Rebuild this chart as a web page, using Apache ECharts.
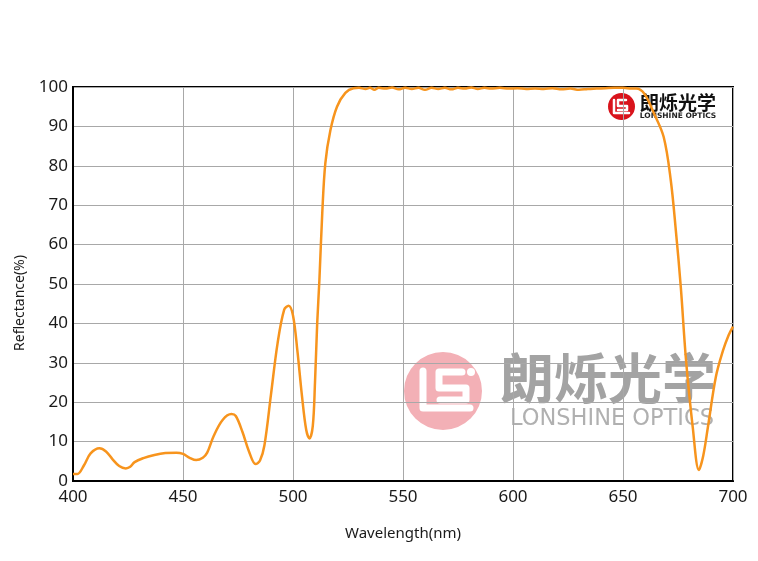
<!DOCTYPE html>
<html>
<head>
<meta charset="utf-8">
<script src="https://cdn.jsdelivr.net/npm/echarts@6/dist/echarts.min.js"></script>
<style>html,body{margin:0;padding:0;background:#fff}#c{width:758px;height:561px}</style>
</head>
<body>
<div id="c"></div>
<script>
var wavelengths = [400,402,405,408,412,415,418,421,424,426,428,432,437,442,447,450,453,456,459,461,464,468,472,474,477,480,483,485,487,490,493,496,498,500,502,504,506,507.5,509,510,511,512,513.3,514.7,517,520,523.8,527.5,530,533,535,537,539,542,545,548,551,554,557,560,563,566,569,572,575,578,581,584,587,590,594,598,602,606,610,614,618,622,626,630,634,638,642,646,650,654,656,659.7,664,668.5,671.7,674,676.3,678.6,681.7,684.5,686.5,688.6,692.2,695.4,698,700];
var reflectance = [1.8,1.8,4,7,8.3,7.5,5.5,3.8,3.2,3.6,4.8,5.8,6.6,7.1,7.2,6.9,5.9,5.3,5.9,7.2,11.5,15.5,17,16.5,12.5,7.5,4.3,5.2,9,22,35,43.5,44.5,42,33,22,13,10.8,14,25,40,51,68,80.7,89,95,98.5,99.7,99.8,99.5,99.8,99.3,99.8,99.6,99.9,99.4,99.8,99.5,99.8,99.3,99.8,99.5,99.8,99.4,99.8,99.6,99.9,99.5,99.8,99.6,99.8,99.6,99.7,99.5,99.6,99.5,99.7,99.4,99.6,99.3,99.5,99.6,99.7,99.8,99.8,99.6,99.6,98.3,93.4,87.3,76.4,63.7,49,31,13.7,2.8,6.5,13.7,26.4,33,37,39.2];
var xTicks = [400,450,500,550,600,650,700];
var yTicks = [0,10,20,30,40,50,60,70,80,90,100];

var points = wavelengths.map(function(w,i){return [w, reflectance[i]];});
var chart = echarts.init(document.getElementById('c'));
var FONT = 'Noto Sans';
var pink = '#f3b0b6', gray = '#a3a3a3';
chart.setOption({
  animation: false,
  grid: {left: 73, right: 25, top: 87, bottom: 80, show: true, borderColor: '#000', borderWidth: 2, backgroundColor: 'transparent'},
  xAxis: {
    type: 'value', min: 400, max: 700, interval: 50,
    name: 'Wavelength(nm)', nameLocation: 'middle', nameGap: 45,
    nameTextStyle: {fontFamily: FONT, fontSize: 15, color: '#1a1a1a'},
    axisLine: {lineStyle: {color: '#000', width: 2}},
    axisTick: {show: false},
    axisLabel: {fontFamily: FONT, fontSize: 17, color: '#1a1a1a', margin: 8,
      formatter: function(v){return xTicks.indexOf(v) >= 0 ? String(v) : '';}},
    splitLine: {show: true, lineStyle: {color: '#a8a8a8', width: 1}}
  },
  yAxis: {
    type: 'value', min: 0, max: 100, interval: 10,
    axisLine: {show: true, lineStyle: {color: '#000', width: 2}},
    axisTick: {show: false},
    axisLabel: {fontFamily: FONT, fontSize: 17, color: '#1a1a1a', margin: 5,
      formatter: function(v){return yTicks.indexOf(v) >= 0 ? String(v) : '';}},
    splitLine: {show: true, lineStyle: {color: '#a8a8a8', width: 1}}
  },
  graphic: [
    {type: 'text', x: 20, y: 303, rotation: Math.PI / 2, silent: true,
      style: {text: 'Reflectance(%)', fontFamily: FONT, fontSize: 14, fill: '#1a1a1a', align: 'center', verticalAlign: 'middle'}},
    {type: 'group', z: 1, silent: true, children: [
      {type: 'circle', shape: {cx: 443, cy: 391, r: 39}, style: {fill: pink}},
      {type: 'polyline', shape: {points: [[423,371],[423,408],[470,408]]}, style: {stroke: '#fff', lineWidth: 7, fill: null, lineJoin: 'round', lineCap: 'round'}},
      {type: 'polyline', shape: {points: [[462,372],[439,372],[439,388],[466,388],[466,400],[440,400]]}, style: {stroke: '#fff', lineWidth: 7, fill: null, lineJoin: 'round', lineCap: 'round'}},
      {type: 'circle', shape: {cx: 471, cy: 372, r: 4}, style: {fill: '#fff'}},
      {type: 'text', style: {text: '朗烁光学', x: 500, y: 378, fontFamily: 'Noto Sans CJK SC', fontWeight: 'bold', fontSize: 54, fill: gray, verticalAlign: 'middle', align: 'left'}},
      {type: 'text', style: {text: 'LONSHINE OPTICS', x: 612, y: 419, fontFamily: 'DejaVu Sans', fontSize: 22.5, fill: '#b0b0b0', verticalAlign: 'middle', align: 'center'}}
    ]},
    {type: 'group', z: 10, silent: true, children: [
      {type: 'circle', shape: {cx: 621.5, cy: 106.5, r: 13.5}, style: {fill: '#d9141c'}},
      {type: 'polyline', shape: {points: [[614,100],[614,113],[629,113]]}, style: {stroke: '#fff', lineWidth: 2.5, fill: null, lineJoin: 'round', lineCap: 'round'}},
      {type: 'polyline', shape: {points: [[626,100],[618,100],[618,106],[627,106],[627,110],[618,110]]}, style: {stroke: '#fff', lineWidth: 2.5, fill: null, lineJoin: 'round', lineCap: 'round'}},
      {type: 'text', style: {text: '朗烁光学', x: 640, y: 103, fontFamily: 'Noto Sans CJK SC', fontWeight: 'bold', fontSize: 19, fill: '#111', verticalAlign: 'middle', align: 'left'}},
      {type: 'text', style: {text: 'LONSHINE OPTICS', x: 678, y: 116.5, fontFamily: 'DejaVu Sans', fontWeight: 'bold', fontSize: 7.5, fill: '#222', verticalAlign: 'middle', align: 'center'}}
    ]}
  ],
  series: [{
    type: 'line', data: points, showSymbol: false, smooth: 0.35, z: 5,
    lineStyle: {color: '#f7941d', width: 2.5}
  }]
});
</script>
</body>
</html>
